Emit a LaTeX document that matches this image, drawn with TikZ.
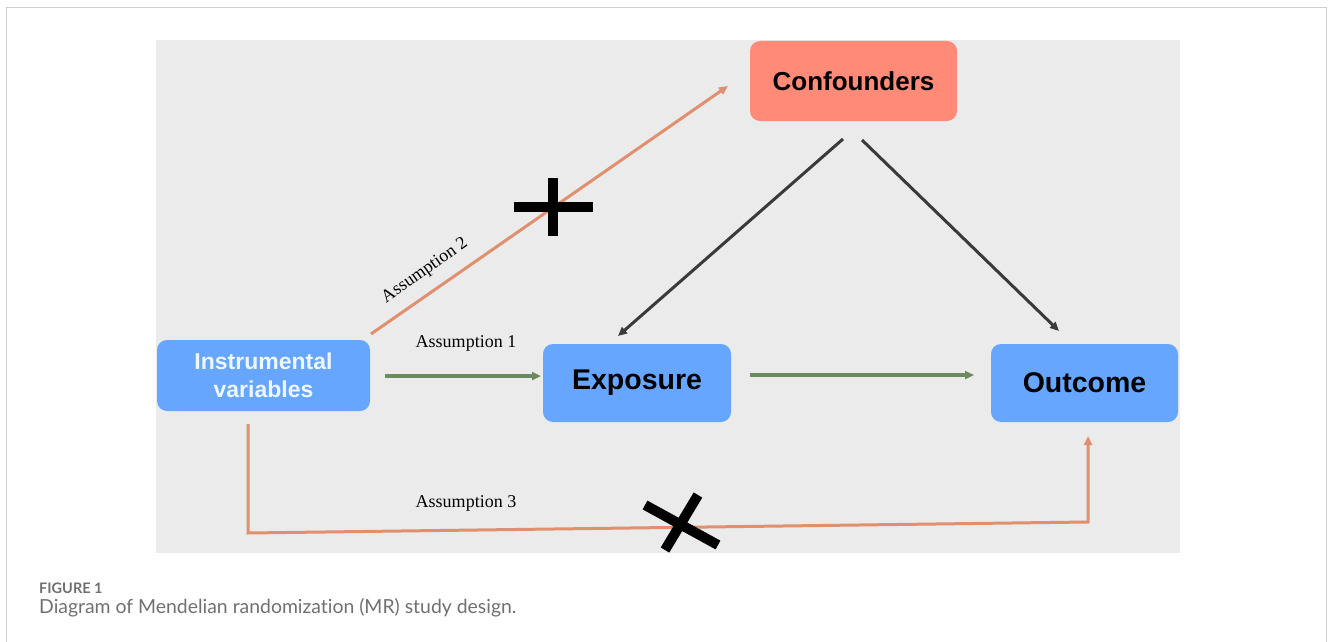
\documentclass[tikz,border=0pt]{standalone}
\usepackage{fontspec}
\setmainfont{Liberation Serif}
\newfontfamily\arialf{Liberation Sans}
\newfontfamily\capf[Ligatures=NoCommon]{Lato}
\usetikzlibrary{arrows.meta}
\definecolor{bgray}{HTML}{EBEBEB}
\definecolor{salmon}{HTML}{FF8A78}
\definecolor{bblue}{HTML}{66A6FF}
\definecolor{gline}{HTML}{6B8A5E}
\definecolor{oline}{HTML}{E0906E}
\definecolor{dline}{HTML}{3A3A3A}
\definecolor{capgray}{HTML}{707070}
\definecolor{frame}{HTML}{CFCFCF}
\begin{document}
\begin{tikzpicture}[x=1pt,y=-1pt,
  box/.style={rounded corners=10pt, inner sep=0pt, font=\arialf\bfseries\fontsize{28.5}{30}\selectfont},
  tip/.style={-{Triangle[length=9pt,width=8pt]}},
  greenarrow/.style={tip, draw=gline, line width=3.5pt},
  orangearrow/.style={tip, draw=oline, line width=3pt},
  darkarrow/.style={tip, draw=dline, line width=3pt},
  assum/.style={font=\fontsize{18}{20}\selectfont, text=black, inner sep=0pt},
  cross/.style={line width=10pt, draw=black}
]
\useasboundingbox (0,0) rectangle (1330,642);
% outer frame
\draw[frame, line width=1pt] (6,650) -- (6,7.5) -- (1326,7.5) -- (1326,650);
% gray background
\fill[bgray] (156,40) rectangle (1180,553);
% nodes
\node[box, fill=salmon, minimum width=207pt, minimum height=80pt, text=black,
  font=\arialf\bfseries\fontsize{26}{28}\selectfont] (conf) at (853.5,81) {Confounders};
\node[box, fill=bblue, minimum width=213pt, minimum height=71pt, text=white!90!bblue, align=center,
  font=\arialf\bfseries\fontsize{23}{28}\selectfont] (iv) at (263.5,375.5) {Instrumental\\variables};
\node[box, fill=bblue, minimum width=188pt, minimum height=78pt, text=black] (exp) at (637,383) {Exposure};
\node[box, fill=bblue, minimum width=187pt, minimum height=78pt, text=black] (out) at (1084.5,383) {Outcome};
% coordinates
\coordinate (a1s) at (385,376);
\coordinate (a1e) at (541,376);
\coordinate (a2s) at (371,334);
\coordinate (a2e) at (728,86);
\coordinate (c1s) at (843,139);
\coordinate (c1e) at (618,336);
\coordinate (c2s) at (862,140);
\coordinate (c2e) at (1059,331);
\coordinate (eos) at (750,375);
\coordinate (eoe) at (974,375);
\coordinate (a3s) at (248,424);
\coordinate (a3b) at (248,533);
\coordinate (a3c) at (1088,522);
\coordinate (a3e) at (1088,436);
% arrows
\draw[greenarrow] (a1s) -- (a1e);
\draw[greenarrow] (eos) -- (eoe);
\draw[orangearrow] (a2s) -- (a2e);
\draw[darkarrow] (c1s) -- (c1e);
\draw[darkarrow] (c2s) -- (c2e);
\draw[orangearrow, line join=miter] (a3s) -- (a3b) -- (a3c) -- (a3e);
% labels
\node[assum] (l1) at (466,343) {Assumption 1};
\node[assum, rotate=35] (l2) at (425,271) {Assumption 2};
\node[assum] (l3) at (466,503) {Assumption 3};
% plus sign
\draw[cross] (514,207) -- (593,207);
\draw[cross] (553,178) -- (553,236);
% x sign
\draw[cross] (645,505) -- (718,545);
\draw[cross] (698,495) -- (665,550);
% caption
\node[anchor=west, inner sep=0pt, text=capgray, font=\capf\bfseries\fontsize{14.5}{16}\selectfont] (fig) at (39,588) {FIGURE 1};
\node[anchor=west, inner sep=0pt, text=capgray, font=\capf\fontsize{19.4}{22}\selectfont] (cap) at (39,608) {Diagram of Mendelian randomization (MR) study design.};
\end{tikzpicture}
\end{document}
